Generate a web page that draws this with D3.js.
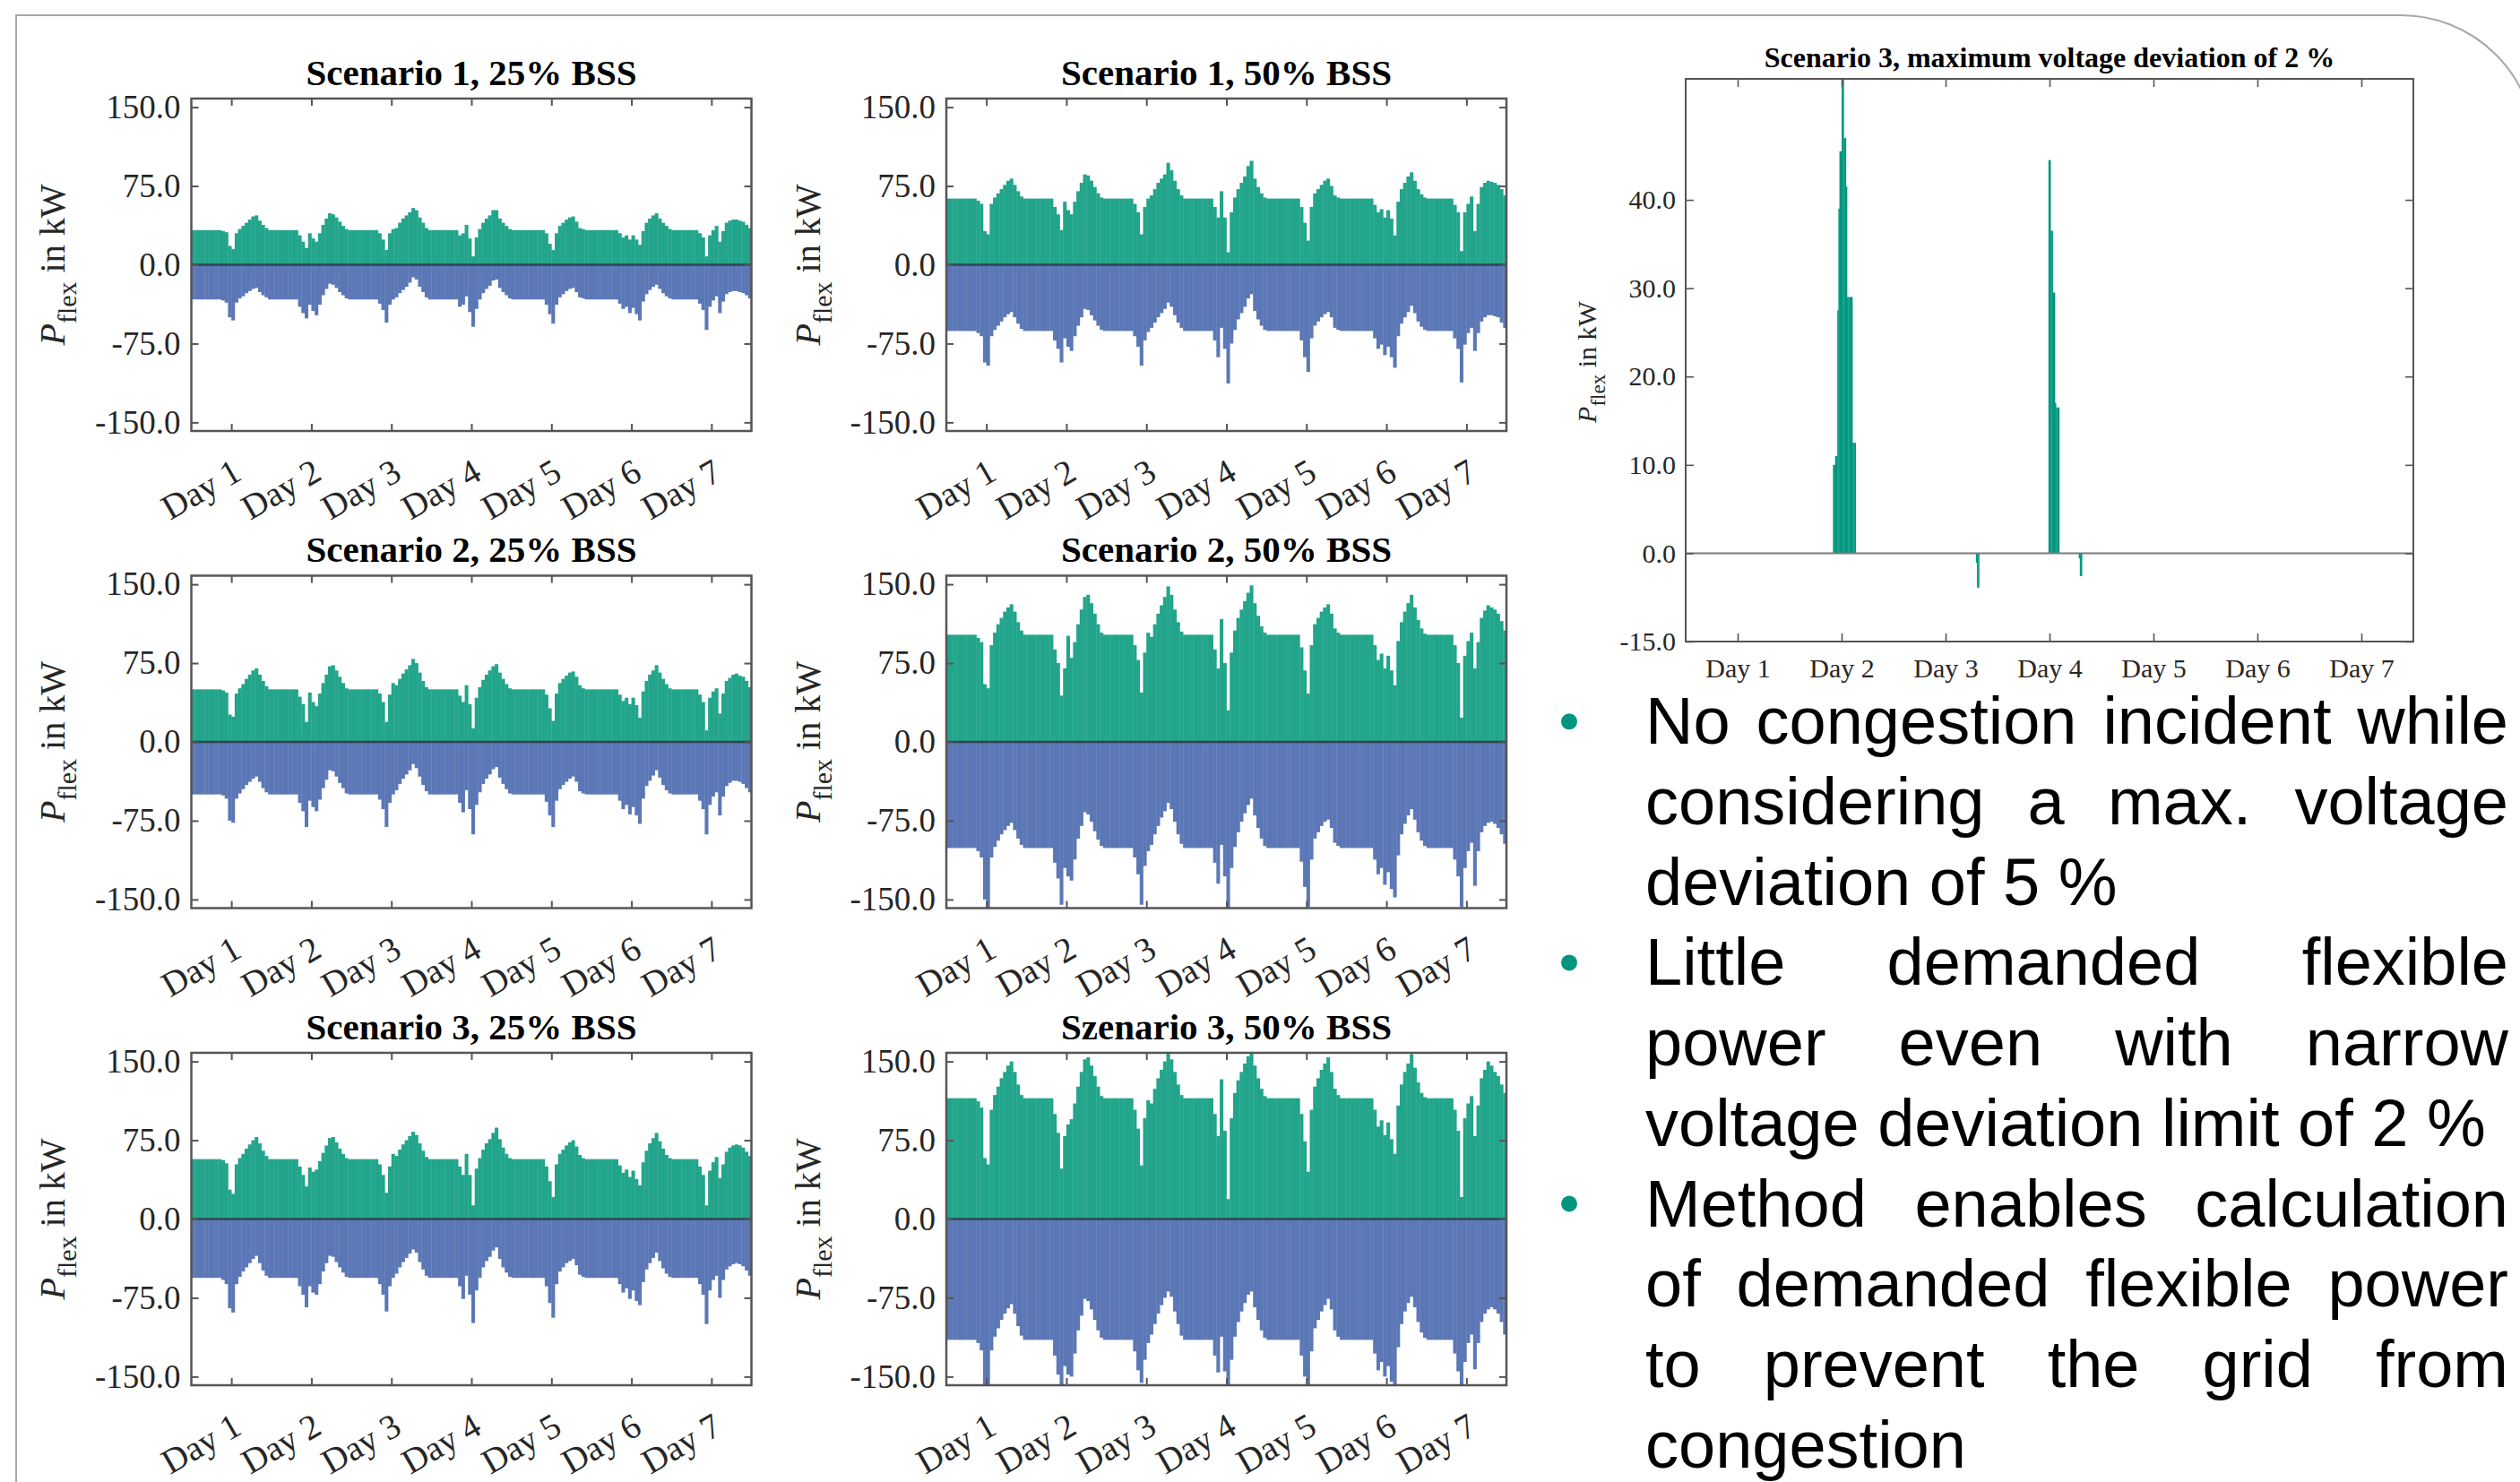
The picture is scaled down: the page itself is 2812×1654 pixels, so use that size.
<!DOCTYPE html>
<html><head><meta charset="utf-8">
<script src="https://cdn.jsdelivr.net/npm/d3@7"></script>
<style>
html,body{margin:0;padding:0;background:#fff;}
svg{display:block;}
</style></head><body>
<svg id="chart" width="2812" height="1654"></svg>
<script>
// ---------------- DATA (hourly values over 7 days, kW) ----------------
const dayLabels = ["Day 1","Day 2","Day 3","Day 4","Day 5","Day 6","Day 7"];
const dayTickHours = [12,36,60,84,108,132,156];
const yTicks = [-150,-75,0,75,150];
const yTickLabels = ["-150.0","-75.0","0.0","75.0","150.0"];

const s1b25Pos = [
33,33,33,33,33,33,33,33,33,32,31,18,15,30,34,37,40,43,46,47,42,38,35,33,
33,33,33,33,33,33,33,33,28,22,16,30,25,22,30,38,44,49,48,45,41,37,34,33,
33,33,33,33,33,33,33,33,30,24,14,30,34,35,40,44,47,50,54,52,45,40,35,33,
33,33,33,33,33,33,33,33,28,30,38,25,8,26,34,40,44,47,52,52,44,40,37,34,
33,33,33,33,33,33,33,33,33,33,30,20,14,30,37,40,43,45,46,41,35,34,33,33,
33,33,33,33,33,33,33,33,30,26,28,24,28,24,19,32,40,44,47,49,44,40,37,34,
33,33,33,33,33,33,33,33,30,26,8,28,33,37,22,32,40,42,43,43,42,41,38,35];
const s1b25Neg = [
-33,-33,-33,-33,-33,-33,-33,-33,-33,-34,-36,-50,-53,-36,-32,-30,-27,-25,-23,-22,-26,-29,-31,-33,
-33,-33,-33,-33,-33,-33,-33,-33,-40,-46,-51,-38,-44,-48,-38,-29,-23,-18,-19,-22,-26,-29,-32,-33,
-33,-33,-33,-33,-33,-33,-33,-33,-37,-43,-55,-38,-33,-31,-27,-24,-21,-17,-12,-14,-21,-26,-31,-33,
-33,-33,-33,-33,-33,-33,-33,-33,-40,-38,-30,-45,-59,-42,-33,-27,-23,-20,-15,-14,-22,-26,-29,-32,
-33,-33,-33,-33,-33,-33,-33,-33,-33,-33,-38,-47,-56,-38,-31,-28,-25,-23,-22,-26,-31,-32,-33,-33,
-33,-33,-33,-33,-33,-33,-33,-33,-37,-42,-40,-46,-41,-47,-53,-35,-28,-24,-21,-19,-23,-27,-30,-32,
-33,-33,-33,-33,-33,-33,-33,-33,-37,-43,-62,-40,-34,-30,-46,-35,-28,-26,-25,-25,-26,-27,-29,-32];

const s1b50Pos = [
63,63,63,63,63,63,63,63,63,61,58,32,29,58,64,68,72,76,80,82,76,70,65,63,
63,63,63,63,63,63,63,63,55,48,33,60,52,48,60,70,78,86,85,80,74,68,64,63,
63,63,63,63,63,63,63,63,58,50,29,55,63,66,72,78,82,86,97,90,80,72,66,63,
63,63,63,63,63,63,63,63,55,45,70,45,12,50,64,72,78,84,94,99,82,74,68,64,
63,63,63,63,63,63,63,63,63,63,55,40,23,55,68,72,76,80,82,75,66,64,63,63,
63,63,63,63,63,63,63,63,57,50,53,45,52,44,28,60,72,78,84,88,80,72,67,64,
63,63,63,63,63,63,63,63,57,50,13,50,58,65,32,58,74,78,80,79,78,76,72,66];
const s1b50Neg = [
-63,-63,-63,-63,-63,-63,-63,-63,-63,-65,-68,-93,-96,-68,-62,-58,-54,-50,-47,-45,-50,-56,-61,-63,
-63,-63,-63,-63,-63,-63,-63,-63,-72,-80,-93,-70,-78,-82,-68,-58,-50,-42,-43,-48,-53,-58,-62,-63,
-63,-63,-63,-63,-63,-63,-63,-63,-68,-78,-96,-72,-64,-60,-55,-50,-46,-42,-36,-40,-48,-55,-60,-63,
-63,-63,-63,-63,-63,-63,-63,-63,-72,-88,-60,-80,-113,-75,-62,-52,-46,-40,-32,-28,-44,-52,-58,-62,
-63,-63,-63,-63,-63,-63,-63,-63,-63,-63,-72,-88,-102,-70,-58,-54,-50,-47,-45,-50,-60,-62,-63,-63,
-63,-63,-63,-63,-63,-63,-63,-63,-70,-80,-76,-86,-78,-88,-98,-68,-56,-50,-45,-39,-46,-54,-59,-62,
-63,-63,-63,-63,-63,-63,-63,-63,-70,-80,-112,-76,-65,-60,-82,-65,-54,-50,-48,-48,-49,-50,-55,-60];

const s2b25Pos = [
50,50,50,50,50,50,50,50,50,49,47,26,24,46,51,55,60,64,68,70,64,58,53,50,
50,50,50,50,50,50,50,50,43,36,19,47,38,34,46,56,64,72,73,68,62,56,51,50,
50,50,50,50,50,50,50,50,46,38,19,45,56,54,60,65,69,73,79,75,66,58,52,50,
50,50,50,50,50,50,50,50,44,38,54,36,13,42,52,59,64,68,72,74,66,60,55,51,
50,50,50,50,50,50,50,50,50,50,45,32,20,46,56,60,63,66,67,62,54,51,50,50,
50,50,50,50,50,50,50,50,45,39,42,36,42,35,23,48,58,64,68,73,66,60,55,51,
50,50,50,50,50,50,50,50,45,38,11,42,48,51,27,46,58,61,64,65,63,62,58,52];
const s2b25Neg = [
-50,-50,-50,-50,-50,-50,-50,-50,-50,-51,-54,-75,-77,-54,-49,-45,-41,-38,-35,-33,-38,-44,-48,-50,
-50,-50,-50,-50,-50,-50,-50,-50,-58,-66,-81,-56,-62,-66,-55,-44,-36,-27,-28,-33,-39,-44,-49,-50,
-50,-50,-50,-50,-50,-50,-50,-50,-55,-64,-81,-58,-50,-46,-40,-35,-31,-27,-21,-25,-33,-41,-47,-50,
-50,-50,-50,-50,-50,-50,-50,-50,-58,-67,-46,-64,-88,-60,-48,-40,-35,-31,-26,-24,-34,-40,-45,-49,
-50,-50,-50,-50,-50,-50,-50,-50,-50,-50,-57,-70,-81,-56,-45,-41,-38,-35,-33,-38,-47,-49,-50,-50,
-50,-50,-50,-50,-50,-50,-50,-50,-56,-64,-60,-69,-62,-70,-78,-54,-42,-37,-32,-27,-34,-41,-46,-49,
-50,-50,-50,-50,-50,-50,-50,-50,-56,-64,-88,-60,-52,-48,-70,-52,-42,-39,-37,-37,-38,-40,-44,-48];

const s2b50Pos = [
102,102,102,102,102,102,102,102,102,99,95,55,51,92,104,112,118,124,128,131,124,114,106,102,
102,102,102,102,102,102,102,102,88,75,44,70,101,80,95,112,126,138,140,132,122,112,104,102,
102,102,102,102,102,102,102,102,92,78,47,85,104,100,112,122,130,138,148,140,126,114,105,102,
102,102,102,102,102,102,102,102,88,70,117,75,30,85,106,118,126,134,142,149,132,120,110,104,
102,102,102,102,102,102,102,102,102,102,90,68,46,92,112,118,124,128,131,122,108,104,102,102,
102,102,102,102,102,102,102,102,92,78,84,70,82,68,54,96,114,124,132,140,128,116,108,103,
102,102,102,102,102,102,102,102,92,75,23,82,96,104,70,95,118,125,130,128,126,122,115,106];
const s2b50Neg = [
-101,-101,-101,-101,-101,-101,-101,-101,-101,-104,-110,-150,-158,-110,-100,-94,-88,-84,-80,-77,-84,-92,-98,-101,
-101,-101,-101,-101,-101,-101,-101,-101,-115,-130,-155,-120,-128,-132,-112,-92,-80,-67,-69,-76,-85,-93,-99,-101,
-101,-101,-101,-101,-101,-101,-101,-101,-110,-126,-155,-118,-104,-98,-88,-80,-72,-66,-58,-64,-76,-88,-97,-101,
-101,-101,-101,-101,-101,-101,-101,-101,-115,-135,-98,-128,-158,-120,-100,-86,-76,-68,-60,-54,-70,-82,-92,-99,
-101,-101,-101,-101,-101,-101,-101,-101,-101,-101,-114,-138,-157,-112,-92,-86,-80,-76,-74,-82,-96,-99,-101,-101,
-101,-101,-101,-101,-101,-101,-101,-101,-112,-126,-120,-136,-124,-140,-148,-108,-88,-78,-70,-64,-74,-86,-94,-99,
-101,-101,-101,-101,-101,-101,-101,-101,-112,-128,-157,-120,-104,-96,-137,-104,-86,-80,-77,-76,-78,-82,-88,-97];

const s3b25Pos = [
57,57,57,57,57,57,57,57,57,56,53,28,24,52,58,62,67,71,75,78,72,65,60,57,
57,57,57,57,57,57,57,57,50,42,31,49,45,47,55,63,70,77,78,73,67,62,58,57,
57,57,57,57,57,57,57,57,52,42,25,50,62,60,66,71,75,79,83,80,72,65,59,57,
57,57,57,57,57,57,57,57,50,42,62,42,13,48,58,66,72,76,82,87,76,68,62,58,
57,57,57,57,57,57,57,57,57,57,50,36,21,52,62,66,70,73,75,69,61,58,57,57,
57,57,57,57,57,57,57,57,51,44,47,40,46,38,32,54,65,72,77,82,74,67,61,58,
57,57,57,57,57,57,57,57,50,42,13,46,54,59,39,52,64,68,70,71,70,68,64,60];
const s3b25Neg = [
-56,-56,-56,-56,-56,-56,-56,-56,-56,-58,-62,-85,-89,-62,-55,-50,-46,-42,-38,-35,-42,-49,-54,-56,
-56,-56,-56,-56,-56,-56,-56,-56,-64,-72,-84,-64,-70,-72,-62,-50,-42,-35,-36,-41,-46,-51,-55,-56,
-56,-56,-56,-56,-56,-56,-56,-56,-62,-72,-88,-64,-56,-52,-46,-41,-37,-33,-29,-32,-41,-48,-54,-56,
-56,-56,-56,-56,-56,-56,-56,-56,-64,-76,-54,-72,-99,-68,-56,-46,-40,-36,-30,-27,-38,-46,-51,-55,
-56,-56,-56,-56,-56,-56,-56,-56,-56,-56,-64,-80,-94,-62,-50,-46,-42,-40,-38,-44,-53,-55,-56,-56,
-56,-56,-56,-56,-56,-56,-56,-56,-62,-70,-66,-76,-68,-78,-82,-60,-48,-42,-37,-32,-40,-47,-52,-55,
-56,-56,-56,-56,-56,-56,-56,-56,-62,-72,-100,-68,-58,-54,-75,-58,-48,-45,-43,-42,-43,-45,-49,-54];

const s3b50Pos = [
115,115,115,115,115,115,115,115,115,112,106,58,52,104,118,126,134,140,146,150,140,128,118,115,
115,115,115,115,115,115,115,115,100,82,48,79,90,95,110,126,140,152,154,146,136,126,117,115,
115,115,115,115,115,115,115,115,104,86,51,96,113,110,124,134,142,150,158,152,140,128,118,115,
115,115,115,115,115,115,115,115,100,79,133,84,19,96,120,132,140,148,155,158,146,134,124,117,
115,115,115,115,115,115,115,115,115,115,100,74,45,104,126,134,142,148,154,140,124,118,115,115,
115,115,115,115,115,115,115,115,104,88,94,80,92,76,62,108,128,140,148,157,144,130,120,116,
115,115,115,115,115,115,115,115,104,84,21,96,110,117,79,108,134,142,150,146,140,136,128,120];
const s3b50Neg = [
-115,-115,-115,-115,-115,-115,-115,-115,-115,-118,-125,-158,-158,-125,-112,-104,-96,-90,-85,-81,-90,-102,-111,-115,
-115,-115,-115,-115,-115,-115,-115,-115,-130,-148,-158,-140,-148,-150,-128,-106,-92,-76,-78,-86,-96,-106,-113,-115,
-115,-115,-115,-115,-115,-115,-115,-115,-126,-144,-156,-134,-118,-110,-100,-90,-82,-75,-69,-74,-88,-100,-111,-115,
-115,-115,-115,-115,-115,-115,-115,-115,-130,-146,-112,-145,-158,-134,-112,-98,-88,-80,-72,-69,-84,-96,-106,-113,
-115,-115,-115,-115,-115,-115,-115,-115,-115,-115,-130,-150,-158,-126,-104,-96,-88,-82,-76,-86,-106,-112,-115,-115,
-115,-115,-115,-115,-115,-115,-115,-115,-128,-144,-136,-150,-140,-155,-158,-122,-100,-88,-80,-74,-84,-98,-108,-113,
-115,-115,-115,-115,-115,-115,-115,-115,-128,-145,-158,-136,-118,-110,-143,-118,-98,-90,-86,-84,-86,-90,-98,-110];

const panelTitles = ["Scenario 1, 25% BSS","Scenario 1, 50% BSS","Scenario 2, 25% BSS",
                     "Scenario 2, 50% BSS","Scenario 3, 25% BSS","Szenario 3, 50% BSS"];

// Right chart: Scenario 3, max. voltage deviation 2 % (15-min steps over 7 days, 672 steps)
const rcTitle = "Scenario 3, maximum voltage deviation of 2 %";
const rcQuarter = [136,137,138,139,140,141,142,143,144,145,146,147,148,149,150,151,152,153,154,155,156,
                   268,269,270,
                   335,336,337,338,339,340,341,342,343,344,
                   363,364,365];
const rcValue = [10,10,11,11,27.5,39,45.5,45.5,55,55,47,47,41.5,29,29,29,29,29,12.5,12.5,12.5,
                 -1.1,-3.9,-3.9,
                 44.5,44.5,36.5,36.5,29.5,29.5,17,16.5,16.5,16.5,
                 -0.6,-2.6,-2.6];
const rcDayTicks = [48,144,240,336,432,528,624];
const rcYTicks = [-10,0,10,20,30,40];
const rcYTickLabels = ["-15.0","0.0","10.0","20.0","30.0","40.0"];

const bullets = [
  ["No congestion incident while","considering a max. voltage","deviation of 5 %"],
  ["Little demanded flexible","power even with narrow","voltage deviation limit of 2 %"],
  ["Method enables calculation","of demanded flexible power","to prevent the grid from","congestion"]
];

// ---------------- DRAWING ----------------
const svg = d3.select("#chart");
const SERIF = "'Liberation Serif','Times New Roman',serif";
const SANS = "'Liberation Sans',Arial,sans-serif";
const GREEN = "#22a58b", BLUE = "#5b77b6", TEAL = "#00977f";
const AXC = "#555555", TXC = "#262626";

// slide frame
svg.append("path")
  .attr("d","M18,1660 L18,17 L2679,17 A150,150 0 0 1 2829,167 L2829,1660")
  .attr("fill","none").attr("stroke","#a8a8a8").attr("stroke-width",2);

const layout = [
  {l:213.5,t:110},{l:1056,t:110},
  {l:213.5,t:642.5},{l:1056,t:642.5},
  {l:213.5,t:1175},{l:1056,t:1175}
];
const series = [[s1b25Pos,s1b25Neg],[s1b50Pos,s1b50Neg],[s2b25Pos,s2b25Neg],
                [s2b50Pos,s2b50Neg],[s3b25Pos,s3b25Neg],[s3b50Pos,s3b50Neg]];
const PW = 625, PH = 371;

function ylabel(g, x, y, size, sub, shift){
  const t = g.append("text").attr("transform",`translate(${x},${y}) rotate(-90)`)
    .attr("text-anchor","middle").attr("font-family",SERIF).attr("font-size",size).attr("fill",TXC);
  t.append("tspan").attr("font-style","italic").text("P");
  t.append("tspan").attr("font-size",sub).attr("dy",shift).text("flex");
  t.append("tspan").attr("dy",-shift).text(" in kW");
}

series.forEach((s,pi)=>{
  const L = layout[pi];
  const g = svg.append("g").attr("transform",`translate(${L.l},${L.t})`);
  const x = d3.scaleLinear().domain([0,168]).range([0,PW]);
  const y = d3.scaleLinear().domain([-158.2,158.2]).range([PH,0]);
  const cid = "clip"+pi;
  g.append("clipPath").attr("id",cid).append("rect").attr("width",PW).attr("height",PH);
  const bars = g.append("g").attr("clip-path",`url(#${cid})`);
  const bw = x(1)-x(0);
  bars.selectAll("rect.p").data(s[0]).join("rect").attr("class","p")
    .attr("x",(d,i)=>x(i)).attr("width",bw+0.35)
    .attr("y",d=>y(d)).attr("height",d=>y(0)-y(d)).attr("fill",GREEN);
  bars.selectAll("rect.n").data(s[1]).join("rect").attr("class","n")
    .attr("x",(d,i)=>x(i)).attr("width",bw+0.35)
    .attr("y",y(0)).attr("height",d=>y(d)-y(0)).attr("fill",BLUE);
  g.append("line").attr("x1",0).attr("x2",PW).attr("y1",y(0)).attr("y2",y(0))
    .attr("stroke","#2d4650").attr("stroke-width",2.5);

  const styleAxis = a => { a.select(".domain").remove();
    a.selectAll(".tick line").attr("stroke",AXC).attr("stroke-width",2);
    a.selectAll("text").attr("font-family",SERIF).attr("font-size",37).attr("fill",TXC); };
  g.append("g").call(d3.axisLeft(y).tickValues(yTicks).tickFormat((d,i)=>yTickLabels[i])
      .tickSize(-8).tickPadding(12)).call(styleAxis);
  g.append("g").attr("transform",`translate(${PW},0)`)
    .call(d3.axisRight(y).tickValues(yTicks).tickFormat("").tickSize(-8)).call(styleAxis);
  g.append("g").attr("transform",`translate(0,0)`)
    .call(d3.axisTop(x).tickValues(dayTickHours).tickFormat("").tickSize(-8)).call(styleAxis);
  const bx = g.append("g").attr("transform",`translate(0,${PH})`)
    .call(d3.axisBottom(x).tickValues(dayTickHours).tickFormat((d,i)=>dayLabels[i]).tickSize(-8))
    .call(styleAxis);
  bx.selectAll("text").attr("x",0).attr("y",0).attr("dy",null).attr("font-size",39)
    .attr("text-anchor","end").attr("transform","translate(13,53) rotate(-30)");

  g.append("rect").attr("width",PW).attr("height",PH).attr("fill","none")
    .attr("stroke",AXC).attr("stroke-width",2.5);
  g.append("text").attr("x",PW/2).attr("y",-15.5).attr("text-anchor","middle")
    .attr("font-family",SERIF).attr("font-weight","bold").attr("font-size",41).attr("fill","#000")
    .text(panelTitles[pi]);
  ylabel(g, -141.5, PH/2, 40, 30, 13);
});

// right chart
(function(){
  const RL = 1881, RT = 88, RW = 812, RH = 628;
  const g = svg.append("g").attr("transform",`translate(${RL},${RT})`);
  const x = d3.scaleLinear().domain([0,672]).range([0,RW]);
  const y = d3.scaleLinear().domain([-10,53.7]).range([RH,0]);
  g.append("clipPath").attr("id","rclip").append("rect").attr("width",RW).attr("height",RH);
  const bw = x(1)-x(0);
  g.append("g").attr("clip-path","url(#rclip)").selectAll("rect").data(rcValue).join("rect")
    .attr("x",(d,i)=>x(rcQuarter[i])).attr("width",bw+0.3)
    .attr("y",d=>d>=0?y(d):y(0)).attr("height",d=>Math.abs(y(d)-y(0)))
    .attr("fill",TEAL);
  g.append("line").attr("x1",0).attr("x2",RW).attr("y1",y(0)).attr("y2",y(0))
    .attr("stroke","#7a7a7a").attr("stroke-width",2);
  const styleAxis = a => { a.select(".domain").remove();
    a.selectAll(".tick line").attr("stroke",AXC).attr("stroke-width",1.6);
    a.selectAll("text").attr("font-family",SERIF).attr("font-size",30).attr("fill",TXC); };
  g.append("g").call(d3.axisLeft(y).tickValues(rcYTicks).tickFormat((d,i)=>rcYTickLabels[i])
      .tickSize(-9).tickPadding(11)).call(styleAxis);
  g.append("g").attr("transform",`translate(${RW},0)`)
    .call(d3.axisRight(y).tickValues(rcYTicks).tickFormat("").tickSize(-9)).call(styleAxis);
  g.append("g").call(d3.axisTop(x).tickValues(rcDayTicks).tickFormat("").tickSize(-9)).call(styleAxis);
  g.append("g").attr("transform",`translate(0,${RH})`)
    .call(d3.axisBottom(x).tickValues(rcDayTicks).tickFormat((d,i)=>dayLabels[i]).tickSize(-9).tickPadding(19))
    .call(styleAxis);
  g.append("rect").attr("width",RW).attr("height",RH).attr("fill","none")
    .attr("stroke",AXC).attr("stroke-width",2);
  g.append("text").attr("x",RW/2).attr("y",-13).attr("text-anchor","middle")
    .attr("font-family",SERIF).attr("font-weight","bold").attr("font-size",32).attr("fill","#000")
    .text(rcTitle);
  ylabel(g, -100, 316, 30, 23, 10);
})();

// bullet text (justified)
(function(){
  const X0 = 1836, X1 = 2799, B0 = 830.3, LH = 89.7, FS = 74;
  let line = 0;
  bullets.forEach(par=>{
    svg.append("circle").attr("cx",1751).attr("cy",B0+line*LH-25).attr("r",9).attr("fill","#00957c");
    par.forEach((str,li)=>{
      const yb = B0 + line*LH;
      const last = li === par.length-1;
      if(last){
        svg.append("text").attr("x",X0).attr("y",yb).attr("font-family",SANS).attr("font-size",FS)
          .attr("fill","#000").text(str);
      } else {
        const words = str.split(" ");
        const nodes = words.map(w=>svg.append("text").attr("y",yb).attr("font-family",SANS)
          .attr("font-size",FS).attr("fill","#000").text(w));
        const widths = nodes.map(n=>n.node().getComputedTextLength());
        const gap = (X1-X0-d3.sum(widths))/(words.length-1);
        let cx = X0;
        nodes.forEach((n,i)=>{ n.attr("x",cx); cx += widths[i]+gap; });
      }
      line++;
    });
  });
})();
</script>
</body></html>
